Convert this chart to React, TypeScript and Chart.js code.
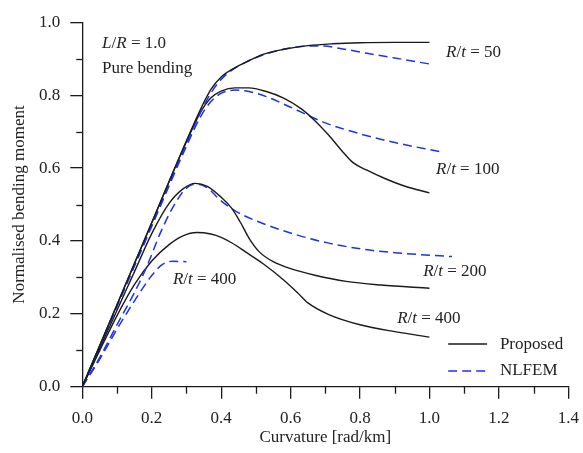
import React, { useEffect, useRef } from 'react';
import { Chart, registerables } from 'chart.js';

Chart.register(...registerables);

const FAMILY = "'Liberation Serif', 'Times New Roman', serif";
const TEXT = '#222';
const BLACK = '#1a1a1a';
const BLUE = '#1f33e6';

const xTickValues = [0, 0.2, 0.4, 0.6, 0.8, 1.0, 1.2, 1.4];
const yTickValues = [0, 0.2, 0.4, 0.6, 0.8, 1.0];
const xMinorTicks = [0.1, 0.3, 0.5, 0.7, 0.9, 1.1, 1.3];
const yMinorTicks = [0.1, 0.3, 0.5, 0.7, 0.9];

const proposed50: [number, number][] = [[0,0],[0.1,0.225],[0.2,0.45],[0.3,0.675],[0.34,0.76],[0.37,0.815],[0.40,0.85],[0.43,0.87],[0.47,0.89],[0.52,0.912],[0.58,0.926],[0.65,0.936],[0.72,0.941],[0.8,0.944],[0.9,0.945],[1.0,0.945]];
const nlfem50: [number, number][] = [[0,0],[0.1,0.222],[0.2,0.445],[0.3,0.668],[0.34,0.752],[0.37,0.805],[0.40,0.843],[0.43,0.868],[0.47,0.89],[0.52,0.91],[0.58,0.926],[0.64,0.934],[0.69,0.935],[0.75,0.927],[0.82,0.915],[0.9,0.902],[1.01,0.884]];
const proposed100: [number, number][] = [[0,0],[0.1,0.225],[0.2,0.45],[0.3,0.672],[0.34,0.752],[0.37,0.792],[0.40,0.811],[0.44,0.82],[0.48,0.82],[0.53,0.81],[0.58,0.792],[0.63,0.763],[0.67,0.73],[0.71,0.69],[0.75,0.645],[0.78,0.615],[0.82,0.594],[0.87,0.572],[0.93,0.55],[1.0,0.532]];
const nlfem100: [number, number][] = [[0,0],[0.1,0.22],[0.2,0.44],[0.3,0.66],[0.34,0.74],[0.37,0.782],[0.40,0.805],[0.44,0.814],[0.48,0.81],[0.53,0.796],[0.6,0.767],[0.7,0.724],[0.8,0.694],[0.9,0.67],[1.03,0.645]];
const proposed200: [number, number][] = [[0,0],[0.1,0.21],[0.15,0.315],[0.2,0.42],[0.25,0.503],[0.29,0.543],[0.325,0.558],[0.36,0.55],[0.4,0.52],[0.43,0.49],[0.455,0.452],[0.48,0.408],[0.51,0.37],[0.55,0.343],[0.6,0.324],[0.67,0.306],[0.76,0.289],[0.86,0.279],[1.0,0.27]];
const nlfem200: [number, number][] = [[0,0],[0.05,0.08],[0.1,0.17],[0.15,0.258],[0.186,0.33],[0.224,0.42],[0.262,0.494],[0.3,0.545],[0.33,0.556],[0.36,0.546],[0.397,0.512],[0.445,0.48],[0.52,0.448],[0.62,0.416],[0.71,0.394],[0.81,0.377],[0.91,0.367],[1.065,0.357]];
const proposed400: [number, number][] = [[0,0],[0.1,0.195],[0.15,0.28],[0.2,0.345],[0.25,0.39],[0.29,0.414],[0.33,0.423],[0.37,0.419],[0.4,0.41],[0.43,0.395],[0.47,0.37],[0.52,0.338],[0.58,0.293],[0.62,0.258],[0.65,0.23],[0.71,0.198],[0.8,0.17],[0.9,0.151],[1.0,0.136]];
const nlfem400: [number, number][] = [[0,0],[0.05,0.075],[0.1,0.158],[0.15,0.235],[0.2,0.305],[0.23,0.335],[0.26,0.344],[0.3,0.343]];

// annotations: [parts (text, italic)], x value, y value (left edge, vertical middle)
type Part = [string, boolean];
const annotations: { parts: Part[]; x: number; y: number }[] = [
  { parts: [['L', true], ['/', false], ['R', true], [' = 1.0', false]], x: 0.057, y: 0.943 },
  { parts: [['Pure bending', false]], x: 0.057, y: 0.874 },
  { parts: [['R', true], ['/', false], ['t', true], [' = 50', false]], x: 1.048, y: 0.916 },
  { parts: [['R', true], ['/', false], ['t', true], [' = 100', false]], x: 1.019, y: 0.595 },
  { parts: [['R', true], ['/', false], ['t', true], [' = 200', false]], x: 0.982, y: 0.315 },
  { parts: [['R', true], ['/', false], ['t', true], [' = 400', false]], x: 0.907, y: 0.186 },
  { parts: [['R', true], ['/', false], ['t', true], [' = 400', false]], x: 0.261, y: 0.293 },
];

const legendItems = [
  { label: 'Proposed', color: BLACK, dash: [] as number[], y: 0.117 },
  { label: 'NLFEM', color: BLUE, dash: [9, 5], y: 0.043 },
];
const legendLineX = [1.054, 1.166];
const legendTextX = 1.203;

const toPts = (a: [number, number][]) => a.map(([x, y]) => ({ x, y }));

const solid = (label: string, d: [number, number][]) => ({
  label, data: toPts(d), borderColor: BLACK, borderWidth: 1.4, pointRadius: 0,
  cubicInterpolationMode: 'monotone' as const, fill: false,
});
const dashed = (label: string, d: [number, number][]) => ({
  label, data: toPts(d), borderColor: BLUE, borderWidth: 1.5, borderDash: [9, 5], pointRadius: 0,
  cubicInterpolationMode: 'monotone' as const, fill: false,
});

const decorPlugin = {
  id: 'decor',
  afterDraw(chart: any) {
    const { ctx } = chart;
    const xs = chart.scales.x;
    const ys = chart.scales.y;
    ctx.save();
    ctx.strokeStyle = BLACK;
    ctx.lineWidth = 1.3;
    ctx.setLineDash([]);
    const axisY = ys.getPixelForValue(0);
    const axisX = xs.getPixelForValue(0);
    for (const v of xMinorTicks) {
      const px = Math.round(xs.getPixelForValue(v)) + 0.5;
      ctx.beginPath();
      ctx.moveTo(px, axisY);
      ctx.lineTo(px, axisY + 7);
      ctx.stroke();
    }
    for (const v of yMinorTicks) {
      const py = Math.round(ys.getPixelForValue(v)) + 0.5;
      ctx.beginPath();
      ctx.moveTo(axisX - 6, py);
      ctx.lineTo(axisX, py);
      ctx.stroke();
    }
    ctx.fillStyle = TEXT;
    ctx.textBaseline = 'middle';
    ctx.textAlign = 'left';
    for (const a of annotations) {
      let cx = xs.getPixelForValue(a.x);
      const cy = ys.getPixelForValue(a.y);
      for (const [t, it] of a.parts) {
        ctx.font = `${it ? 'italic ' : ''}17px ${FAMILY}`;
        ctx.fillText(t, cx, cy);
        cx += ctx.measureText(t).width;
      }
    }
    for (const item of legendItems) {
      const py = ys.getPixelForValue(item.y);
      ctx.strokeStyle = item.color;
      ctx.lineWidth = item.dash.length ? 1.5 : 1.4;
      ctx.setLineDash(item.dash);
      ctx.beginPath();
      ctx.moveTo(xs.getPixelForValue(legendLineX[0]), py);
      ctx.lineTo(xs.getPixelForValue(legendLineX[1]), py);
      ctx.stroke();
      ctx.setLineDash([]);
      ctx.font = `17px ${FAMILY}`;
      ctx.fillStyle = TEXT;
      ctx.fillText(item.label, xs.getPixelForValue(legendTextX), py);
    }
    ctx.restore();
  },
};

export default function App() {
  const ref = useRef<HTMLCanvasElement>(null);
  useEffect(() => {
    if (!ref.current) return;
    const chart = new Chart(ref.current, {
      type: 'line',
      data: {
        datasets: [
          solid('Proposed R/t=50', proposed50),
          dashed('NLFEM R/t=50', nlfem50),
          solid('Proposed R/t=100', proposed100),
          dashed('NLFEM R/t=100', nlfem100),
          solid('Proposed R/t=200', proposed200),
          dashed('NLFEM R/t=200', nlfem200),
          solid('Proposed R/t=400', proposed400),
          dashed('NLFEM R/t=400', nlfem400),
        ],
      },
      options: {
        animation: false,
        responsive: false,
        layout: { padding: { left: 0, top: 22.3, right: 14.7, bottom: 0 } },
        plugins: { legend: { display: false }, tooltip: { enabled: false } },
        scales: {
          x: {
            type: 'linear',
            min: 0,
            max: 1.4,
            afterBuildTicks: (s: any) => { s.ticks = xTickValues.map((v) => ({ value: v })); },
            afterFit: (s: any) => { s.height = 66.3; s.paddingLeft = 0; s.paddingRight = 0; },
            grid: { drawOnChartArea: false, drawTicks: true, tickLength: 12, color: BLACK, lineWidth: 1.3 },
            border: { display: true, color: BLACK, width: 1.3 },
            ticks: {
              color: TEXT, padding: 10, maxRotation: 0,
              font: { family: FAMILY, size: 17 },
              callback: (v: any) => Number(v).toFixed(1),
            },
            title: {
              display: true, text: 'Curvature [rad/km]', color: TEXT,
              font: { family: FAMILY, size: 17 }, padding: { top: 0, bottom: 5 },
            },
          },
          y: {
            type: 'linear',
            min: 0,
            max: 1.0,
            afterBuildTicks: (s: any) => { s.ticks = yTickValues.map((v) => ({ value: v })); },
            afterFit: (s: any) => { s.width = 82.3; s.paddingTop = 0; s.paddingBottom = 0; },
            grid: { drawOnChartArea: false, drawTicks: true, tickLength: 12, color: BLACK, lineWidth: 1.3 },
            border: { display: true, color: BLACK, width: 1.3 },
            ticks: {
              color: TEXT, padding: 10,
              font: { family: FAMILY, size: 17 },
              callback: (v: any) => Number(v).toFixed(1),
            },
            title: {
              display: true, text: 'Normalised bending moment', color: TEXT,
              font: { family: FAMILY, size: 17 }, padding: { top: 9, bottom: 0 },
            },
          },
        },
      },
      plugins: [decorPlugin],
    } as any);
    return () => chart.destroy();
  }, []);
  return (
    <div style={{ position: 'absolute', left: 0, top: 0, width: 583, height: 453, background: '#fff' }}>
      <canvas ref={ref} width={583} height={453} style={{ display: 'block' }} />
    </div>
  );
}
